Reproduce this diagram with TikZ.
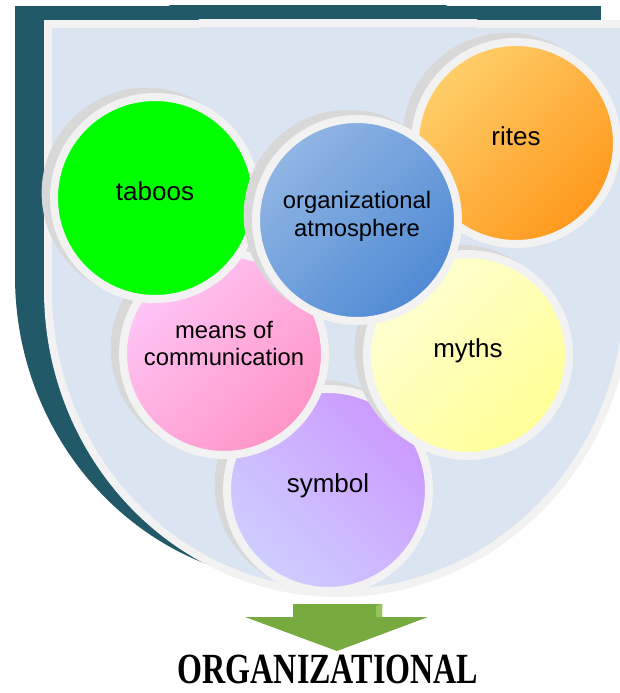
\documentclass[tikz,border=0pt]{standalone}
\usepackage{graphicx}
\usepackage{fontspec}
\setmainfont{Liberation Serif}
\setsansfont{Liberation Sans}
\usetikzlibrary{shadows}
\definecolor{shieldteal}{RGB}{33,89,104}
\definecolor{shieldfill}{RGB}{219,229,241}
\definecolor{ringgray}{RGB}{242,242,242}
\definecolor{shadegray}{RGB}{216,216,216}
\definecolor{bubblegreen}{RGB}{0,255,0}
\definecolor{bluelight}{RGB}{145,182,228}
\definecolor{bluedark}{RGB}{80,138,212}
\definecolor{orangelight}{RGB}{255,206,106}
\definecolor{orangedark}{RGB}{255,152,28}
\definecolor{pinklight}{RGB}{255,198,248}
\definecolor{pinkdark}{RGB}{255,148,198}
\definecolor{yellowlight}{RGB}{255,255,212}
\definecolor{yellowdark}{RGB}{255,255,150}
\definecolor{purplelight}{RGB}{206,206,255}
\definecolor{purpledark}{RGB}{204,153,255}
\definecolor{arrowgreen}{RGB}{119,171,64}
\definecolor{arrowedge}{RGB}{148,198,92}
\tikzset{
    bubble/.style={circle, draw=ringgray, line width=8pt, minimum size=202pt, inner sep=0pt, align=center,
        drop shadow={fill=shadegray, opacity=1, shadow xshift=-8pt, shadow yshift=5pt, shadow scale=1.04}},
    oneline/.style={font=\sffamily\fontsize{26}{30}\selectfont, text height=17pt, text depth=12pt},
    twoline/.style={font=\sffamily\fontsize{23.8}{27.5}\selectfont, text height=#1, text depth=12pt},
    bubbleG/.style={bubble, fill=bubblegreen},
    bubbleB/.style={bubble, left color=bluelight, right color=bluedark, shading angle=45},
    bubbleO/.style={bubble, left color=orangelight, right color=orangedark, shading angle=45},
    bubbleK/.style={bubble, left color=pinklight, right color=pinkdark, shading angle=45},
    bubbleY/.style={bubble, left color=yellowlight, right color=yellowdark, shading angle=45},
    bubbleP/.style={bubble, left color=purplelight, right color=purpledark, shading angle=135},
    titletext/.style={font=\rmfamily\bfseries\fontsize{43}{43}\selectfont, anchor=base, inner sep=0pt},
}
\begin{document}
\begin{tikzpicture}[x=1pt, y=-1pt]
    \useasboundingbox (0,0) rectangle (619,693);
    % dark shield behind
    \begin{scope}
        \clip (15,6) rectangle (601,700);
        \fill[shieldteal] (15,6) rectangle (601,276);
        \fill[shieldteal] (308,276) ellipse [x radius=293, y radius=307];
    \end{scope}
    % light shield with its rim
    \begin{scope}
        \clip (44,20) rectangle (632,700);
        \fill[ringgray] (44,20) rectangle (632,290);
        \fill[ringgray] (338,290) ellipse [x radius=294, y radius=307];
    \end{scope}
    \begin{scope}
        \clip (52,28) rectangle (624,700);
        \fill[shieldfill] (52,28) rectangle (624,290);
        \fill[shieldfill] (338,290) ellipse [x radius=286, y radius=299];
    \end{scope}
    % circles
    \node[bubbleP, oneline] (symbol) at (328,490) {symbol};
    \node[bubbleY, oneline] (myths) at (468,355) {myths};
    \node[bubbleO, oneline] (rites) at (516,143) {rites};
    \node[bubbleK, twoline=35pt] (means) at (224,354) {means of\\communication};
    \node[bubbleG, oneline] (taboos) at (155,198) {taboos};
    \node[bubbleB, twoline=44pt] (atmosphere) at (357,220) {organizational\\atmosphere};
    % arrow and caption
    \fill[arrowgreen] (293,604) -- (382,604) -- (382,617) -- (428,617) -- (337,651) -- (245,617) -- (293,617) -- cycle;
    \fill[arrowedge] (376,606) -- (382,604) -- (382,617) -- (376,617) -- cycle;
    \node[titletext] (title) at (328,683) {\scalebox{0.746}[1]{ORGANIZATIONAL}};
\end{tikzpicture}
\end{document}
